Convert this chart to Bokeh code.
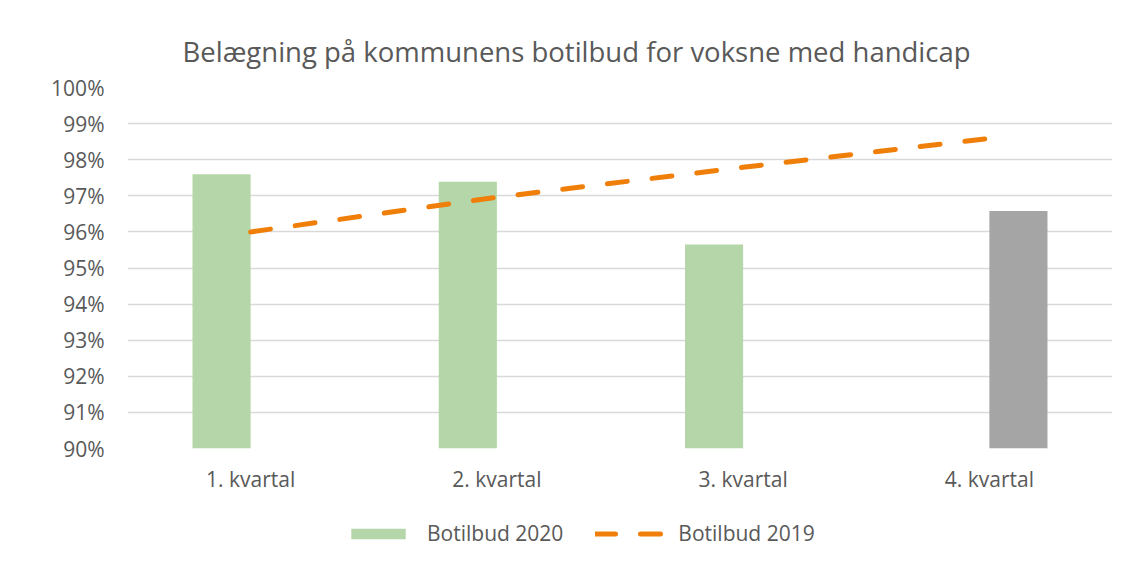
from bokeh.plotting import figure
from bokeh.layouts import column
from bokeh.models import (ColumnDataSource, Range1d, NumeralTickFormatter, Legend,
                          LegendItem, SingleIntervalTicker)
from bokeh.transform import dodge
from bokeh.embed import file_html
from bokeh.resources import INLINE

# ---- data ----
quarters = ["1. kvartal", "2. kvartal", "3. kvartal", "4. kvartal"]
botilbud_2020 = [0.9760, 0.9739, 0.9565, None]          # green bars
botilbud_2020_q4 = [None, None, None, 0.9658]           # grey bar (4. kvartal)
botilbud_2019 = [0.9600, 0.9696, 0.9779, 0.9859]        # dashed line
series_names = ["Botilbud 2020", "Botilbud 2019"]
title_text = "Belægning på kommunens botilbud for voksne med handicap"

FONT = "Open Sans"
TXT = "#595959"
GREEN = "#B4D6A9"
GREY = "#A5A5A5"
ORANGE = "#F07F09"
FS = "21px"

src_green = ColumnDataSource(dict(q=quarters[:3], v=botilbud_2020[:3]))
src_grey = ColumnDataSource(dict(q=quarters[3:], v=botilbud_2020_q4[3:]))
src_line = ColumnDataSource(dict(q=quarters, v=botilbud_2019))

p = figure(x_range=quarters, y_range=Range1d(0.90, 1.00),
           width=1120, height=500, output_backend="svg", toolbar_location=None,
           min_border_left=127, min_border_right=8, min_border_top=87,
           min_border_bottom=52)

p.title.text = title_text
p.title.align = "left"
p.title.offset = 55
p.title.text_font = FONT
p.title.text_font_size = "27.5px"
p.title.text_font_style = "normal"
p.title.text_color = TXT
p.title.standoff = 35

bw = 0.236
p.vbar(x=dodge("q", -0.118, range=p.x_range), top="v", bottom=0.90, width=bw,
       source=src_green, fill_color=GREEN, line_color=None)
p.vbar(x=dodge("q", 0.118, range=p.x_range), top="v", bottom=0.90, width=bw,
       source=src_grey, fill_color=GREY, line_color=None)
p.line(x="q", y="v", source=src_line, line_color=ORANGE, line_width=5,
       line_dash="20 25", line_cap="round")

p.outline_line_color = None
p.background_fill_color = "white"
p.border_fill_color = "white"

p.xgrid.grid_line_color = None
p.ygrid.grid_line_color = "#D9D9D9"
p.ygrid.grid_line_width = 1.5

p.yaxis.ticker = SingleIntervalTicker(interval=0.01)
p.yaxis.formatter = NumeralTickFormatter(format="0%")
for ax in (p.xaxis[0], p.yaxis[0]):
    ax.axis_line_color = None
    ax.major_tick_line_color = None
    ax.minor_tick_line_color = None
    ax.major_tick_out = 0
    ax.major_label_text_font = FONT
    ax.major_label_text_font_size = FS
    ax.major_label_text_color = TXT
p.yaxis.major_label_standoff = 19
p.xaxis.major_label_standoff = 16

# ---- legend strip below the chart (series kept outside its visible range) ----
p2 = figure(width=1120, height=59, x_range=quarters, y_range=Range1d(2.0, 3.0),
            output_backend="svg", toolbar_location=None,
            x_axis_location=None, y_axis_location=None, min_border=0)
p2.outline_line_color = None
p2.grid.grid_line_color = None
p2.background_fill_color = "white"
p2.border_fill_color = "white"
lg_bar = p2.vbar(x="q", top="v", bottom=0.90, width=bw, source=src_green,
                 fill_color=GREEN, line_color=None)
lg_line = p2.line(x="q", y="v", source=src_line, line_color=ORANGE, line_width=5,
                  line_dash="20 25", line_cap="round")
legend = Legend(items=[LegendItem(label=series_names[0], renderers=[lg_bar]),
                       LegendItem(label=series_names[1], renderers=[lg_line])],
                orientation="horizontal", location=(217, 12),
                glyph_width=68, glyph_height=13, label_standoff=15, spacing=32,
                label_text_font=FONT, label_text_font_size=FS,
                label_text_color=TXT, border_line_color=None,
                background_fill_alpha=0, margin=0, padding=6)
p2.add_layout(legend, "center")

layout = column(p, p2, spacing=0)
open("out.html", "w").write(file_html(layout, INLINE))
